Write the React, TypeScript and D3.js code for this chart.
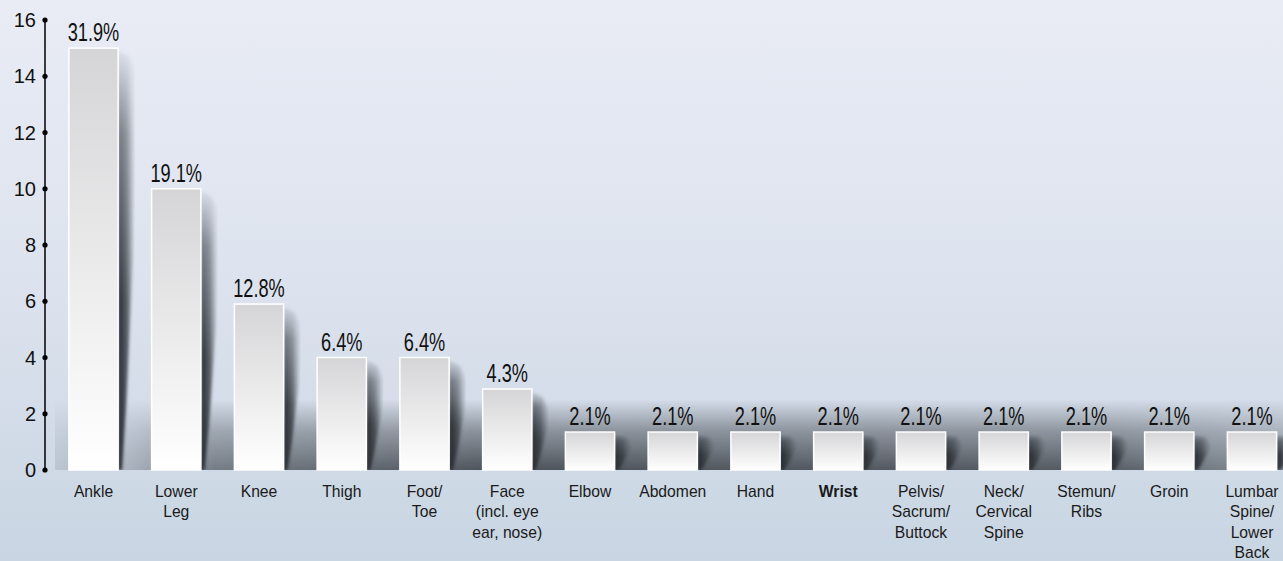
import React from 'react';
import * as d3 from 'd3';

const categories: string[][] = [
  ['Ankle'],
  ['Lower', 'Leg'],
  ['Knee'],
  ['Thigh'],
  ['Foot/', 'Toe'],
  ['Face', '(incl. eye', 'ear, nose)'],
  ['Elbow'],
  ['Abdomen'],
  ['Hand'],
  ['Wrist'],
  ['Pelvis/', 'Sacrum/', 'Buttock'],
  ['Neck/', 'Cervical', 'Spine'],
  ['Stemun/', 'Ribs'],
  ['Groin'],
  ['Lumbar', 'Spine/', 'Lower', 'Back'],
];
const values: number[] = [15, 10, 5.9, 4, 4, 2.88, 1.35, 1.35, 1.35, 1.35, 1.35, 1.35, 1.35, 1.35, 1.35];
const percentLabels: string[] = ['31.9%', '19.1%', '12.8%', '6.4%', '6.4%', '4.3%', '2.1%', '2.1%', '2.1%', '2.1%', '2.1%', '2.1%', '2.1%', '2.1%', '2.1%'];
const yTicks: number[] = [0, 2, 4, 6, 8, 10, 12, 14, 16];
const boldCategories: string[] = ['Wrist'];

const W = 1283;
const H = 561;

export default function App() {
  const keys = categories.map((c) => c.join(' '));
  const x = d3.scalePoint<string>().domain(keys).range([93.5, 1252]);
  const barW = x.step() * 0.595;
  const y = d3.scaleLinear().domain([0, 16]).range([470, 20]);
  const base = y(0);

  return (
    <svg
      width={W}
      height={H}
      style={{ position: 'fixed', left: 0, top: 0, display: 'block' }}
      xmlns="http://www.w3.org/2000/svg"
    >
      <defs>
        <linearGradient id="bg" x1="0" y1="0" x2="0" y2="1">
          <stop offset="0" stopColor="#e9ecf5" />
          <stop offset="0.5" stopColor="#dde3ee" />
          <stop offset="1" stopColor="#c8d5e2" />
        </linearGradient>
        <linearGradient id="barFill" x1="0" y1="0" x2="0" y2="1">
          <stop offset="0" stopColor="#d5d5d7" />
          <stop offset="1" stopColor="#ffffff" />
        </linearGradient>
        <linearGradient id="shadowGrad" x1="0" y1="0" x2="1" y2="0">
          <stop offset="0" stopColor="#25292e" stopOpacity="1" />
          <stop offset="0.5" stopColor="#363b41" stopOpacity="0.8" />
          <stop offset="1" stopColor="#4a4f56" stopOpacity="0.05" />
        </linearGradient>
        <linearGradient id="shadowV" x1="0" y1="0" x2="0" y2="1">
          <stop offset="0" stopColor="#fff" stopOpacity="0.05" />
          <stop offset="0.2" stopColor="#fff" stopOpacity="0.6" />
          <stop offset="0.6" stopColor="#fff" stopOpacity="1" />
          <stop offset="1" stopColor="#fff" stopOpacity="1" />
        </linearGradient>
        <mask id="shadowMask" maskContentUnits="objectBoundingBox">
          <rect x={0} y={0} width={1} height={1} fill="url(#shadowV)" />
        </mask>
        <linearGradient id="groundV" x1="0" y1="0" x2="0" y2="1">
          <stop offset="0" stopColor="#4e545b" stopOpacity="0" />
          <stop offset="0.45" stopColor="#4e545b" stopOpacity="0.55" />
          <stop offset="1" stopColor="#464c53" stopOpacity="0.95" />
        </linearGradient>
        <linearGradient id="groundH" x1="0" y1="0" x2="1" y2="0">
          <stop offset="0" stopColor="#fff" stopOpacity="0.15" />
          <stop offset="0.06" stopColor="#fff" stopOpacity="0.3" />
          <stop offset="0.13" stopColor="#fff" stopOpacity="0.7" />
          <stop offset="0.35" stopColor="#fff" stopOpacity="1" />
          <stop offset="0.85" stopColor="#fff" stopOpacity="0.95" />
          <stop offset="1" stopColor="#fff" stopOpacity="0.55" />
        </linearGradient>
        <mask id="groundMask" maskUnits="userSpaceOnUse" x="0" y="0" width={W} height={H}>
          <rect x={55} y={0} width={W - 55} height={H} fill="url(#groundH)" />
        </mask>
        <filter id="blur" x="-50%" y="-20%" width="200%" height="140%">
          <feGaussianBlur stdDeviation="1.6" />
        </filter>
      </defs>

      <rect x={0} y={0} width={W} height={H} fill="url(#bg)" />

      {/* ground shadow band */}
      <rect
        x={55}
        y={base - 70}
        width={W - 55}
        height={70}
        fill="url(#groundV)"
        mask="url(#groundMask)"
      />

      {/* bar cast shadows */}
      {values.map((v, i) => {
        const cx = x(keys[i]) as number;
        const r = cx + barW / 2;
        const t = y(v);
        const h = base - t;
        const y1 = t + Math.min(8, h * 0.1);
        const y2 = t + Math.min(22, h * 0.35);
        const y3 = Math.max(y2 + 2, t + h * 0.5);
        const y4 = Math.max(y3 + 2, t + h * 0.85);
        const pts: [number, number][] = [
          [r, t + 2],
          [r + 11, y1],
          [r + 17, y2],
          [r + 15, y3],
          [r + 8, y4],
          [r + 4, base],
          [r, base],
        ];
        return (
          <g key={'s' + i} mask="url(#shadowMask)">
            <path d={d3.line()(pts) + 'Z'} fill="url(#shadowGrad)" filter="url(#blur)" />
          </g>
        );
      })}

      {/* bars */}
      {values.map((v, i) => {
        const cx = x(keys[i]) as number;
        return (
          <rect
            key={'b' + i}
            x={cx - barW / 2}
            y={y(v)}
            width={barW}
            height={base - y(v)}
            fill="url(#barFill)"
            stroke="#ffffff"
            strokeWidth={1.5}
          />
        );
      })}

      {/* value labels */}
      {values.map((v, i) => {
        const cx = x(keys[i]) as number;
        return (
          <text
            key={'v' + i}
            transform={`translate(${cx},${y(v) - 7}) scale(0.7,1)`}
            textAnchor="middle"
            fontFamily="'Liberation Sans', Arial, sans-serif"
            fontSize={26}
            fill="#111"
          >
            {percentLabels[i]}
          </text>
        );
      })}

      {/* category labels */}
      {categories.map((lines, i) => {
        const cx = x(keys[i]) as number;
        const bold = boldCategories.includes(keys[i]);
        return (
          <text
            key={'c' + i}
            x={cx}
            y={base + 27}
            textAnchor="middle"
            fontFamily="'Liberation Sans', Arial, sans-serif"
            fontSize={15.7}
            fontWeight={bold ? 'bold' : 'normal'}
            fill="#1a1a1a"
          >
            {lines.map((ln, j) => (
              <tspan key={j} x={cx} dy={j === 0 ? 0 : 20.4}>
                {ln}
              </tspan>
            ))}
          </text>
        );
      })}

      {/* y axis */}
      <line x1={45} x2={45} y1={y(16)} y2={base} stroke="#000" strokeWidth={1.5} />
      {yTicks.map((t) => (
        <g key={'t' + t}>
          <circle cx={45} cy={y(t)} r={2.6} fill="#000" />
          <text
            x={36}
            y={y(t) + 7}
            textAnchor="end"
            fontFamily="'Liberation Sans', Arial, sans-serif"
            fontSize={20}
            fill="#111"
          >
            {t}
          </text>
        </g>
      ))}
    </svg>
  );
}
